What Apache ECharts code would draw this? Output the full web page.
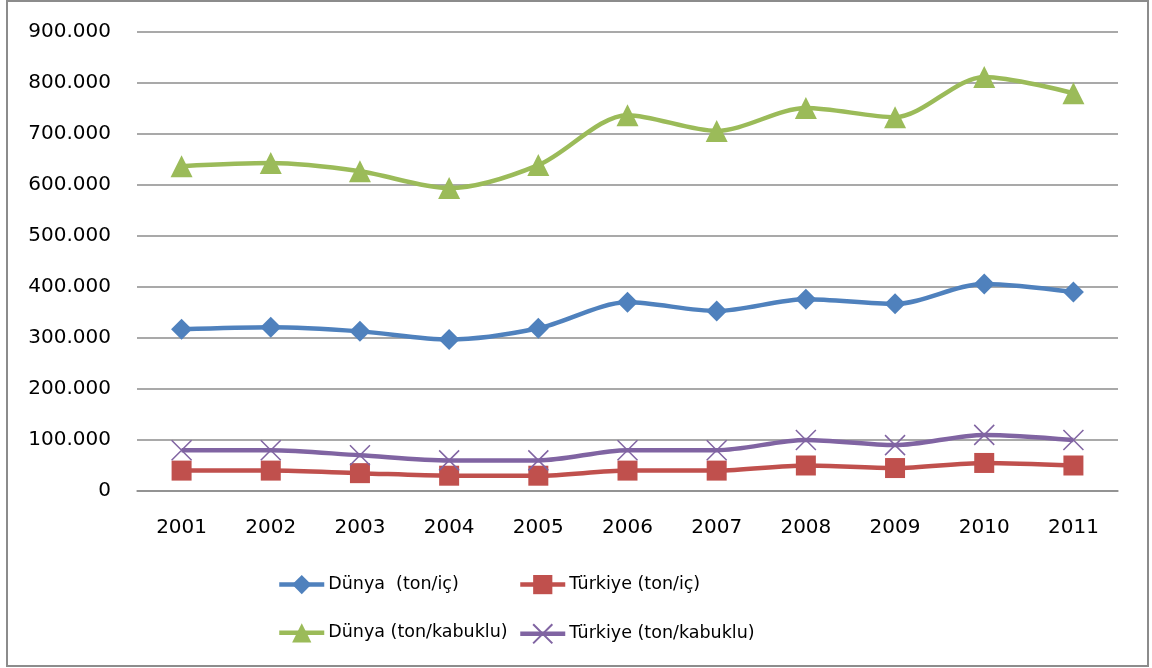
<!DOCTYPE html>
<html>
<head>
<meta charset="utf-8">
<script src="https://cdn.jsdelivr.net/npm/echarts@6/dist/echarts.min.js"></script>
<style>
  html, body { margin: 0; padding: 0; background: #fff; }
  #chart { width: 1152px; height: 668px; }
</style>
</head>
<body>
<div id="chart"></div>
<script>
const years = ["2001", "2002", "2003", "2004", "2005", "2006", "2007", "2008", "2009", "2010", "2011"];
const dunyaIc = [317000, 321000, 313000, 297000, 319000, 370000, 353000, 376000, 367000, 406000, 390000];
const turkiyeIc = [40000, 40000, 35000, 30000, 30000, 40000, 40000, 50000, 45000, 55000, 50000];
const dunyaKabuklu = [637000, 643000, 627000, 594000, 639000, 737000, 706000, 751000, 733000, 812000, 780000];
const turkiyeKabuklu = [80000, 80000, 70000, 60000, 60000, 80000, 80000, 100000, 90000, 110000, 100000];

const FONT = "DejaVu Sans";
const GRID = "#8c8c8c";

// 900000 -> "900.000"
function fmt(v) {
  return String(v).replace(/\B(?=(\d{3})+(?!\d))/g, ".");
}

function lineSeries(name, data, color, symbol, size, extra) {
  return Object.assign({
    name,
    type: "line",
    data,
    smooth: 0.3,
    symbol,
    symbolSize: size,
    showAllSymbol: true,
    lineStyle: { color, width: 4.5 },
    itemStyle: { color },
    z: 3,
  }, extra || {});
}

const legendBase = {
  orient: "vertical",
  top: 575,
  padding: 0,
  itemWidth: 45,
  itemHeight: 24,
  itemGap: 29,
  lineStyle: { width: 4.5 },
  textStyle: { fontSize: 17.5, color: "#000", fontFamily: FONT, padding: [0, 0, 0, -1] },
};

const chart = echarts.init(document.getElementById("chart"));
chart.setOption({
  animation: false,
  textStyle: { fontFamily: FONT },
  graphic: [{
    type: "rect",
    shape: { x: 7, y: 1, width: 1141, height: 665 },
    style: { fill: "none", stroke: GRID, lineWidth: 2 },
    silent: true,
  }],
  grid: { left: 137, right: 34, top: 32, bottom: 177 },
  xAxis: {
    type: "category",
    data: years,
    boundaryGap: true,
    axisLine: { lineStyle: { color: GRID, width: 1.5 } },
    axisTick: { show: false },
    axisLabel: { color: "#000", fontSize: 20, margin: 27, fontFamily: FONT },
  },
  yAxis: {
    type: "value",
    min: 0,
    max: 900000,
    interval: 100000,
    axisLine: { show: false },
    axisTick: { show: false },
    splitLine: { lineStyle: { color: GRID, width: 1.5 } },
    axisLabel: { color: "#000", fontSize: 20, margin: 26, fontFamily: FONT, formatter: fmt },
  },
  legend: [
    Object.assign({ data: ["Dünya  (ton/iç)", "Dünya (ton/kabuklu)"], left: 277 }, legendBase),
    Object.assign({ data: ["Türkiye (ton/iç)", "Türkiye (ton/kabuklu)"], left: 518 }, legendBase),
  ],
  series: [
    lineSeries("Dünya  (ton/iç)", dunyaIc, "#4F81BD", "diamond", 21),
    lineSeries("Türkiye (ton/iç)", turkiyeIc, "#C0504D", "rect", 20),
    lineSeries("Dünya (ton/kabuklu)", dunyaKabuklu, "#9BBB59", "triangle", 22),
    lineSeries("Türkiye (ton/kabuklu)", turkiyeKabuklu, "#8064A2",
      "path://M0,0L10,10M10,0L0,10", 20,
      { itemStyle: { color: "#8064A2", borderColor: "#8064A2", borderWidth: 1.5 } }),
  ],
});
</script>
</body>
</html>
